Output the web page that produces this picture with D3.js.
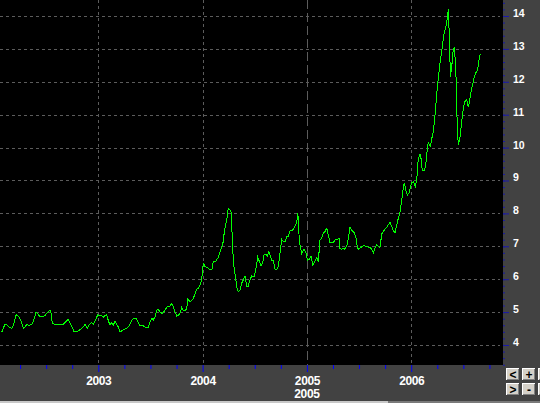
<!DOCTYPE html>
<html><head><meta charset="utf-8">
<script src="https://cdn.jsdelivr.net/npm/d3@7"></script>
<style>html,body{margin:0;padding:0;background:#424242;overflow:hidden}svg{display:block}</style>
</head><body>
<svg id="chart" width="540" height="403"></svg>
<script>
// ---- data (decimal years, price) ----
const t2002 = [2002.074,2002.105,2002.128,2002.147,2002.170,2002.185,2002.211,2002.233,2002.256,2002.281,2002.297,2002.314,2002.336,2002.361,2002.377,2002.403,2002.415,2002.441,2002.473,2002.489,2002.511,2002.537,2002.547,2002.559,2002.585,2002.633,2002.664,2002.681,2002.712,2002.729,2002.745,2002.767,2002.793,2002.825,2002.856,2002.873,2002.895,2002.914,2002.937,2002.952,2002.975,2002.994];
const p2002 = [4.39,4.63,4.60,4.53,4.51,4.58,4.92,4.88,4.76,4.51,4.54,4.63,4.59,4.63,4.71,5.00,4.96,4.86,4.86,4.90,4.98,5.06,4.96,4.66,4.63,4.63,4.63,4.68,4.78,4.66,4.58,4.40,4.40,4.47,4.55,4.63,4.51,4.63,4.68,4.64,4.76,4.92];
const t2003 = [2003.016,2003.033,2003.048,2003.064,2003.081,2003.096,2003.112,2003.129,2003.144,2003.160,2003.176,2003.192,2003.208,2003.224,2003.240,2003.272,2003.297,2003.320,2003.336,2003.361,2003.374,2003.393,2003.416,2003.431,2003.448,2003.479,2003.496,2003.512,2003.527,2003.544,2003.560,2003.575,2003.598,2003.617,2003.640,2003.656,2003.687,2003.704,2003.719,2003.735,2003.752,2003.767,2003.783,2003.800,2003.815,2003.831,2003.848,2003.857,2003.879,2003.896,2003.911,2003.927,2003.943,2003.959,2003.975,2003.991];
const p2003 = [4.89,4.90,4.84,4.90,4.92,4.74,4.61,4.68,4.61,4.71,4.64,4.54,4.40,4.43,4.47,4.51,4.58,4.74,4.81,4.81,4.74,4.61,4.58,4.58,4.54,4.54,4.71,4.81,4.76,4.86,5.06,5.08,4.98,4.96,5.06,5.15,5.18,5.27,5.17,5.01,4.88,4.91,4.96,5.15,5.05,5.05,5.09,5.39,5.32,5.35,5.42,5.55,5.69,5.72,5.82,5.98];
const t2004 = [2004.007,2004.023,2004.039,2004.055,2004.078,2004.090,2004.103,2004.128,2004.151,2004.167,2004.183,2004.198,2004.208,2004.221,2004.231,2004.246,2004.263,2004.272,2004.279,2004.289,2004.301,2004.314,2004.327,2004.342,2004.359,2004.375,2004.390,2004.407,2004.423,2004.438,2004.454,2004.471,2004.493,2004.512,2004.528,2004.544,2004.560,2004.576,2004.589,2004.608,2004.620,2004.634,2004.646,2004.663,2004.678,2004.694,2004.710,2004.726,2004.742,2004.758,2004.774,2004.790,2004.806,2004.822,2004.838,2004.864,2004.886,2004.902,2004.912,2004.921,2004.927,2004.934,2004.950,2004.972,2004.991];
const p2004 = [6.50,6.38,6.36,6.33,6.28,6.30,6.55,6.55,6.67,6.84,6.99,7.14,7.44,7.65,7.80,8.15,8.10,8.05,7.65,6.89,6.36,6.08,5.77,5.62,5.67,5.88,5.98,6.10,5.79,5.79,5.98,6.10,6.06,6.33,6.67,6.54,6.40,6.50,6.74,6.77,6.71,6.84,6.74,6.58,6.58,6.30,6.28,6.38,6.79,7.21,7.14,7.14,7.29,7.31,7.47,7.49,7.62,7.72,8.02,7.70,7.09,7.04,6.77,6.91,6.81];
const t2005 = [2005.004,2005.023,2005.039,2005.056,2005.078,2005.094,2005.109,2005.126,2005.142,2005.157,2005.174,2005.190,2005.205,2005.222,2005.253,2005.269,2005.292,2005.311,2005.317,2005.334,2005.349,2005.365,2005.382,2005.397,2005.413,2005.430,2005.452,2005.471,2005.483,2005.493,2005.509,2005.526,2005.550,2005.573,2005.605,2005.621,2005.637,2005.653,2005.669,2005.685,2005.701,2005.717,2005.732,2005.749,2005.765,2005.780,2005.797,2005.813,2005.828,2005.845,2005.861,2005.876,2005.893,2005.909,2005.919,2005.924,2005.934,2005.943,2005.953,2005.963,2005.979,2005.989];
const p2005 = [6.58,6.60,6.70,6.43,6.56,6.66,6.53,7.21,7.24,7.40,7.45,7.55,7.35,7.11,7.11,7.19,7.21,7.24,6.94,6.91,6.94,6.91,7.01,7.24,7.58,7.48,7.42,7.24,6.99,6.91,6.94,6.99,7.02,6.99,6.96,6.91,6.81,6.94,7.04,6.99,6.97,7.37,7.45,7.52,7.58,7.65,7.72,7.60,7.47,7.41,7.65,7.85,8.05,8.41,8.63,8.80,8.93,8.81,8.63,8.56,8.63,8.76];
const t2006 = [2006.005,2006.020,2006.030,2006.039,2006.053,2006.062,2006.068,2006.078,2006.084,2006.094,2006.101,2006.110,2006.123,2006.132,2006.142,2006.149,2006.158,2006.164,2006.174,2006.187,2006.193,2006.206,2006.219,2006.228,2006.235,2006.245,2006.254,2006.264,2006.273,2006.283,2006.292,2006.302,2006.308,2006.321,2006.334,2006.343,2006.350,2006.360,2006.362,2006.369,2006.372,2006.379,2006.382,2006.388,2006.394,2006.404,2006.413,2006.420,2006.430,2006.436,2006.442,2006.452,2006.461,2006.471,2006.480,2006.490,2006.500,2006.509,2006.519,2006.532,2006.542,2006.551,2006.561,2006.570,2006.580,2006.593,2006.605,2006.621,2006.634,2006.643,2006.653,2006.663];
const p2006 = [8.93,8.96,8.89,8.81,9.02,9.44,9.67,9.72,9.81,9.67,9.42,9.30,9.30,9.37,9.57,9.81,10.03,10.18,10.08,10.03,10.23,10.38,10.69,10.99,11.24,11.65,11.95,12.23,12.51,12.74,12.91,13.14,13.37,13.55,13.69,13.86,14.08,14.20,13.67,12.97,12.61,12.16,12.51,12.31,12.76,12.97,13.05,12.74,12.10,11.35,10.53,10.08,10.23,10.38,10.69,10.94,11.19,11.35,11.42,11.47,11.29,11.26,11.47,11.63,11.80,11.97,12.16,12.28,12.34,12.51,12.74,12.86];

const yTickValues = [4,5,6,7,8,9,10,11,12,13,14];
const xTickYears = [2003,2004,2005,2006];
const subLabelYear = 2005;
const buttonLabels = [["<","+"],[">","-"]];

// ---- layout ----
const W = 540, H = 403;
const plotW = 503, plotH = 365;
const times = [].concat(t2002,t2003,t2004,t2005,t2006);
const prices = [].concat(p2002,p2003,p2004,p2005,p2006);
const data = times.map((t,i)=>[t,prices[i]]);

const x = d3.scaleLinear().domain([2002.0575, 2006.880]).range([0, plotW]);
const y = d3.scaleLinear().domain([3.392, 14.486]).range([plotH, 0]);

const svg = d3.select("#chart");
svg.append("rect").attr("width",W).attr("height",H).attr("fill","#424242");
svg.append("rect").attr("width",plotW).attr("height",plotH).attr("fill","#000");

// grid
const grid = svg.append("g").attr("stroke","#5c5c5c").attr("stroke-width",1).attr("shape-rendering","crispEdges");
grid.selectAll("line.h").data(yTickValues).join("line")
  .attr("x1",0).attr("x2",plotW-3)
  .attr("y1",d=>Math.round(y(d))+0.5).attr("y2",d=>Math.round(y(d))+0.5)
  .attr("stroke-dasharray","3,3");
grid.selectAll("line.v").data(xTickYears).join("line")
  .attr("x1",d=>Math.round(x(d))+0.5).attr("x2",d=>Math.round(x(d))+0.5)
  .attr("y1",0).attr("y2",plotH)
  .attr("stroke-dasharray",d=>d===subLabelYear?"9,4":"3,3");

// line
svg.append("clipPath").attr("id","clip").append("rect").attr("width",plotW).attr("height",plotH);
svg.append("path").datum(data)
  .attr("clip-path","url(#clip)")
  .attr("fill","none").attr("stroke","#00ff00").attr("stroke-width",1)
  .attr("shape-rendering","crispEdges")
  .attr("d", d3.line().x(d=>x(d[0])).y(d=>y(d[1])));

// bottom band
svg.append("rect").attr("x",0).attr("y",plotH).attr("width",W).attr("height",H-plotH).attr("fill","#424242");
svg.append("rect").attr("x",0).attr("y",401).attr("width",388).attr("height",2).attr("fill","#c8c8c8");
svg.append("rect").attr("x",388).attr("y",401).attr("width",W-388).attr("height",2).attr("fill","#7a7a7a");

const font = "'Liberation Sans', Arial, sans-serif";

// y axis (right)
const yMinor = d3.range(17, 73).map(i=>i/5);
const gyMinor = svg.append("g").attr("transform",`translate(${plotW},0)`)
  .call(d3.axisRight(y).tickValues(yMinor).tickSize(2).tickFormat(""));
gyMinor.select(".domain").remove();
gyMinor.selectAll("line").attr("stroke","#1a1aa8");
const gy = svg.append("g").attr("transform",`translate(${plotW},0)`)
  .call(d3.axisRight(y).tickValues(yTickValues).tickSize(6).tickFormat(d3.format("d")));
gy.select(".domain").remove();
gy.selectAll("line").attr("stroke","#1a1aa8");
gy.selectAll("text").attr("x",10).attr("dy",0).attr("y",0.5)
  .attr("fill","#fff").attr("font-family",font).attr("font-weight","bold").attr("font-size","10.5px");

// x axis
const xMinor = d3.range(2002.25, 2006.8, 0.25).filter(v=>!xTickYears.includes(v));
const gxMinor = svg.append("g").attr("transform",`translate(0,${plotH})`)
  .call(d3.axisBottom(x).tickValues(xMinor).tickSize(4).tickFormat(""));
gxMinor.select(".domain").remove();
gxMinor.selectAll("line").attr("stroke","#0000ff");
const gx = svg.append("g").attr("transform",`translate(0,${plotH})`)
  .call(d3.axisBottom(x).tickValues(xTickYears).tickSize(7).tickFormat(d3.format("d")));
gx.select(".domain").remove();
gx.selectAll("line").attr("stroke","#0000ff");
gx.selectAll("text").attr("y",20).attr("dy",0)
  .attr("fill","#fff").attr("font-family",font).attr("font-weight","bold").attr("font-size","12px")
  .attr("letter-spacing","-0.4px");
svg.append("text").attr("x",x(subLabelYear)).attr("y",398).attr("text-anchor","middle")
  .attr("fill","#fff").attr("font-family",font).attr("font-weight","bold").attr("font-size","12px")
  .attr("letter-spacing","-0.4px").text(d3.format("d")(subLabelYear));

// buttons
const bx = [506, 522, 538], byy = [368, 383], bw = 14, bh = 13;
function button(x0,y0,label){
  const g = svg.append("g").attr("shape-rendering","crispEdges");
  g.append("rect").attr("x",x0).attr("y",y0).attr("width",bw).attr("height",bh).attr("fill","#d4d0c8");
  g.append("path").attr("d",`M${x0+0.5},${y0+bh}V${y0+0.5}H${x0+bw}`).attr("stroke","#fff").attr("fill","none");
  g.append("path").attr("d",`M${x0},${y0+bh-0.5}H${x0+bw-0.5}V${y0}`).attr("stroke","#404040").attr("fill","none");
  g.append("path").attr("d",`M${x0+1},${y0+bh-1.5}H${x0+bw-1.5}V${y0+1}`).attr("stroke","#808080").attr("fill","none");
  if(label) g.append("text").attr("x",x0+bw/2).attr("y",y0+10.5).attr("text-anchor","middle")
    .attr("font-family",font).attr("font-weight","bold").attr("font-size","12px").attr("fill","#000").text(label);
}
buttonLabels.forEach((row,r)=>row.forEach((lab,c)=>button(bx[c],byy[r],lab)));
button(bx[2],byy[0],"");
button(bx[2],byy[1],"");
</script>
</body></html>
